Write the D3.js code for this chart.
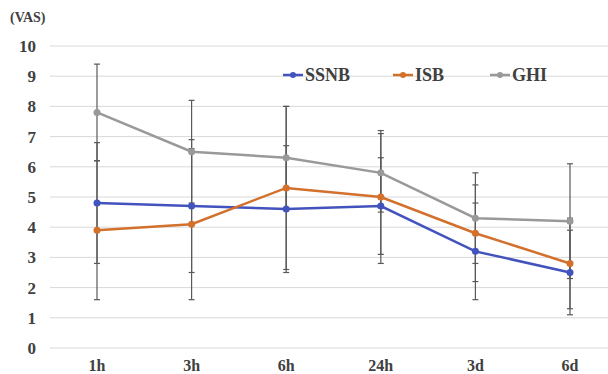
<!DOCTYPE html>
<html>
  <head>
    <meta charset="utf-8">
    <title>VAS chart</title>
    <script src="https://d3js.org/d3.v7.min.js"></script>
    <style>
      body { margin: 0; background: #fff; }
    </style>
  </head>
  <body>
    <svg width="608" height="374"></svg>
    <script>
      var categories = ["1h", "3h", "6h", "24h", "3d", "6d"];
      var seriesNames = ["SSNB", "ISB", "GHI"];
      var ssnb = [4.8, 4.7, 4.6, 4.7, 3.2, 2.5];
      var isb = [3.9, 4.1, 5.3, 5.0, 3.8, 2.8];
      var ghi = [7.8, 6.5, 6.3, 5.8, 4.3, 4.2];
      // standard deviations
      var ssnbSd = [2.0, 2.2, 2.1, 1.6, 1.6, 1.4];
      var isbSd = [2.3, 2.5, 2.7, 2.2, 1.6, 1.5];
      var ghiSd = [1.6, 1.7, 1.7, 1.3, 1.5, 1.9];
      var yTicks = [0, 1, 2, 3, 4, 5, 6, 7, 8, 9, 10];

      var colors = ["#4353bd", "#d2702c", "#999999"];
      var series = [
        { name: seriesNames[0], values: ssnb, sd: ssnbSd, color: colors[0] },
        { name: seriesNames[1], values: isb, sd: isbSd, color: colors[1] },
        { name: seriesNames[2], values: ghi, sd: ghiSd, color: colors[2] }
      ];

      var font = "'Liberation Serif'";

      var svg = d3.select("svg");

      var x = d3.scaleBand().domain(categories).range([49.7, 617.3]);
      var y = d3.scaleLinear().domain([0, 10]).range([348, 46]);
      var cx = function(c) { return x(c) + x.bandwidth() / 2; };

      // gridlines
      svg.append("g").selectAll("line")
        .data(yTicks).enter().append("line")
        .attr("x1", 50).attr("x2", 608)
        .attr("y1", function(d) { return y(d); })
        .attr("y2", function(d) { return y(d); })
        .attr("stroke", "#d9d9d9").attr("stroke-width", 1);

      // y tick labels
      svg.append("g").selectAll("text")
        .data(yTicks).enter().append("text")
        .attr("x", 36)
        .attr("y", function(d) { return y(d) + 6; })
        .attr("text-anchor", "end")
        .attr("fill", "#404040")
        .style("font-family", font)
        .style("font-weight", "bold")
        .style("font-size", "17px")
        .text(function(d) { return d; });

      svg.append("text")
        .attr("x", 10).attr("y", 22)
        .attr("fill", "#404040")
        .style("font-family", font)
        .style("font-weight", "bold")
        .style("font-size", "14px")
        .text("(VAS)");

      // x labels
      svg.append("g").selectAll("text")
        .data(categories).enter().append("text")
        .attr("x", function(d) { return cx(d); })
        .attr("y", 371)
        .attr("text-anchor", "middle")
        .attr("fill", "#404040")
        .style("font-family", font)
        .style("font-weight", "bold")
        .style("font-size", "16px")
        .text(function(d) { return d; });

      // error bars
      var eb = svg.append("g");
      series.forEach(function(s) {
        categories.forEach(function(c, i) {
          var lo = s.values[i] - s.sd[i], hi = s.values[i] + s.sd[i];
          var px = cx(c);
          eb.append("line")
            .attr("x1", px).attr("x2", px)
            .attr("y1", y(lo)).attr("y2", y(hi))
            .attr("stroke", "#595959").attr("stroke-width", 1.2);
          [lo, hi].forEach(function(v) {
            eb.append("line")
              .attr("x1", px - 3).attr("x2", px + 3)
              .attr("y1", y(v)).attr("y2", y(v))
              .attr("stroke", "#595959").attr("stroke-width", 1.2);
          });
        });
      });

      var line = d3.line()
        .x(function(d, i) { return cx(categories[i]); })
        .y(function(d) { return y(d); });

      series.forEach(function(s) {
        svg.append("path")
          .datum(s.values)
          .attr("d", line)
          .attr("fill", "none")
          .attr("stroke", s.color)
          .attr("stroke-width", 2.5);
        svg.append("g").selectAll("circle")
          .data(s.values).enter().append("circle")
          .attr("cx", function(d, i) { return cx(categories[i]); })
          .attr("cy", function(d) { return y(d); })
          .attr("r", 3.5)
          .attr("fill", s.color);
      });

      // legend
      var legendX = [283, 393, 490];
      var legend = svg.append("g");
      series.forEach(function(s, i) {
        var lx = legendX[i], ly = 75;
        legend.append("line")
          .attr("x1", lx).attr("x2", lx + 20)
          .attr("y1", ly).attr("y2", ly)
          .attr("stroke", s.color).attr("stroke-width", 2.5);
        legend.append("circle")
          .attr("cx", lx + 10).attr("cy", ly).attr("r", 3)
          .attr("fill", s.color);
        legend.append("text")
          .attr("x", lx + 22).attr("y", ly + 6)
          .attr("fill", "#404040")
          .style("font-family", font)
          .style("font-weight", "bold")
          .style("font-size", "18px")
          .text(s.name);
      });
    </script>
  </body>
</html>
